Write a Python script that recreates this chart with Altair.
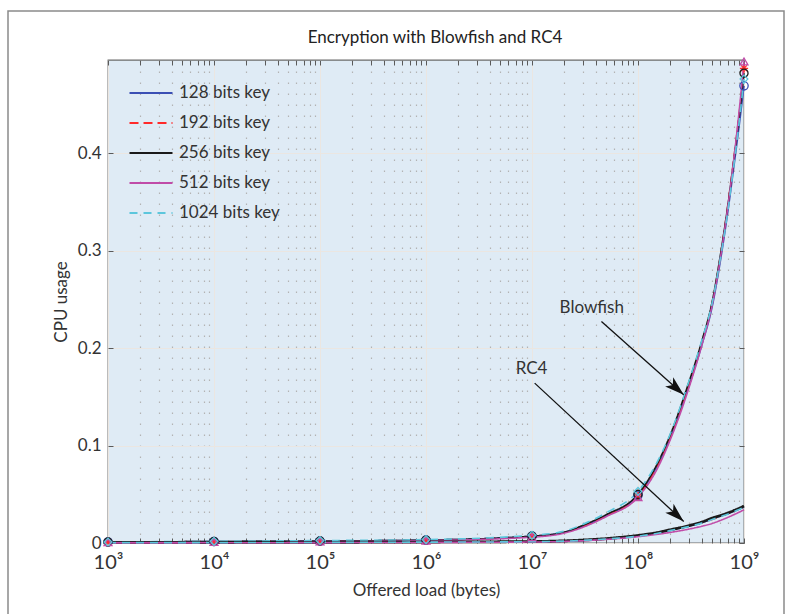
import altair as alt
import pandas as pd

# ---------------- data ----------------
keys = ["128 bits key", "192 bits key", "256 bits key", "512 bits key", "1024 bits key"]
colors = ["#3b4fb4", "#ff2a2a", "#1a1a1a", "#c04ca8", "#5cc6dc"]
dashes = [[1, 0], [9, 5], [1, 0], [1, 0], [8, 6]]
marker_shapes = ["circle",
                 "M-1,0L1,0M0,-1L0,1M-0.7,-0.7L0.7,0.7M-0.7,0.7L0.7,-0.7",
                 "circle", "triangle-up", "diamond"]
marker_sizes = [70, 60, 6, 90, 110]

loads = [1e3, 1e4, 1e5, 1e6, 1e7, 2e7, 3e7, 5e7, 1e8, 1.5e8, 2e8, 3e8,
         4e8, 5e8, 6e8, 7e8, 8e8, 9e8, 1e9]

blowfish_128 = [0.001, 0.0015, 0.002, 0.003, 0.007, 0.011, 0.017, 0.028, 0.049, 0.078,
                0.107, 0.160, 0.203, 0.242, 0.290, 0.338, 0.385, 0.428, 0.469]
blowfish_192 = [0.001, 0.0015, 0.002, 0.003, 0.007, 0.011, 0.017, 0.028, 0.048, 0.078,
                0.108, 0.162, 0.206, 0.246, 0.295, 0.345, 0.394, 0.440, 0.487]
blowfish_256 = [0.001, 0.0015, 0.002, 0.003, 0.007, 0.011, 0.018, 0.029, 0.050, 0.080,
                0.110, 0.164, 0.207, 0.247, 0.296, 0.344, 0.392, 0.437, 0.482]
blowfish_512 = [0.0008, 0.001, 0.0015, 0.0025, 0.006, 0.010, 0.016, 0.027, 0.047, 0.075,
                0.105, 0.158, 0.203, 0.244, 0.293, 0.343, 0.393, 0.443, 0.494]
blowfish_1024 = [0.001, 0.0018, 0.0025, 0.0035, 0.008, 0.012, 0.019, 0.031, 0.053, 0.082,
                 0.111, 0.165, 0.208, 0.246, 0.293, 0.339, 0.387, 0.432, 0.476]

rc4_128 = [0.0002, 0.0004, 0.0006, 0.0009, 0.0014, 0.002, 0.0028, 0.0042, 0.0072, 0.010,
           0.013, 0.0172, 0.0208, 0.0246, 0.0276, 0.0300, 0.0325, 0.0348, 0.0370]
rc4_192 = [0.0002, 0.0004, 0.0006, 0.0009, 0.0014, 0.002, 0.0029, 0.0043, 0.0073, 0.0102,
           0.0131, 0.0172, 0.0207, 0.0242, 0.0274, 0.0300, 0.0326, 0.0350, 0.0372]
rc4_256 = [0.0003, 0.0005, 0.0007, 0.001, 0.0015, 0.0022, 0.003, 0.0045, 0.0078, 0.0106,
           0.0135, 0.0177, 0.0215, 0.0255, 0.0282, 0.0307, 0.0332, 0.0356, 0.0380]
rc4_512 = [0.0001, 0.0002, 0.0004, 0.0006, 0.001, 0.0016, 0.0023, 0.0037, 0.0065, 0.0088,
           0.0108, 0.0142, 0.0172, 0.0200, 0.0232, 0.0262, 0.0290, 0.0316, 0.0340]
rc4_1024 = [0.0002, 0.0004, 0.0006, 0.0009, 0.0013, 0.0019, 0.0027, 0.0041, 0.0070, 0.0098,
            0.0127, 0.0168, 0.0204, 0.0240, 0.0270, 0.0296, 0.0321, 0.0345, 0.0366]

decades = [1e3, 1e4, 1e5, 1e6, 1e7, 1e8, 1e9]
minor_ticks = [m * 10 ** e for e in range(3, 9) for m in range(2, 10)]
y_ticks = [0, 0.1, 0.2, 0.3, 0.4]

chart_title = "Encryption with Blowfish and RC4"
ann_labels = ["Blowfish", "RC4"]
ann_text_x = [3.66e7, 9.9e6]
ann_text_y = [0.2407, 0.178]
arrow_x = [4.52e7, 1.06e7]
arrow_y = [0.2272, 0.164]
arrow_x2 = [2.70e8, 2.70e8]
arrow_y2 = [0.152, 0.022]
arrow_angle = [131.7, 132.9]

# ---------------- tables ----------------
bf = [blowfish_128, blowfish_192, blowfish_256, blowfish_512, blowfish_1024]
rc = [rc4_128, rc4_192, rc4_256, rc4_512, rc4_1024]
rows = []
for alg, series in (("Blowfish", bf), ("RC4", rc)):
    for k, vals in zip(keys, series):
        for x, y in zip(loads, vals):
            rows.append({"alg": alg, "key": k, "load": x, "cpu": y})
df_lines = pd.DataFrame(rows)
df_marks = df_lines[(df_lines["alg"] == "Blowfish") & (df_lines["load"].isin(decades))].copy()
df_marks["mkey"] = df_marks["key"]
df_ann = pd.DataFrame({"label": ann_labels, "tx": ann_text_x, "ty": ann_text_y,
                       "x": arrow_x, "y": arrow_y, "x2": arrow_x2, "y2": arrow_y2,
                       "angle": arrow_angle})

W, H = 636, 483
FONT = "Lato"
TXT = "#333333"
xscale = alt.Scale(type="log", domain=[1e3, 1e9], nice=False)
yscale = alt.Scale(domain=[0, 0.4955], nice=False, zero=False)
sup = ("'10' + substring('\u2070\u00b9\u00b2\u00b3\u2074\u2075\u2076\u2077\u2078\u2079', "
       "round(log(datum.value)/LN10), round(log(datum.value)/LN10)+1)")

# legend symbol dash pattern, looked up from the same key/dash lists
dash_expr = "[1,0]"
for k, d in zip(keys, dashes):
    dash_expr = f"datum.value == '{k}' ? [{d[0]},{d[1]}] : ({dash_expr})"

legend = alt.Legend(
    title=None, orient="none", legendX=32, legendY=22, padding=0,
    labelFont=FONT, labelFontSize=17, labelFontWeight="normal", labelColor=TXT,
    labelOffset=17, symbolType="M-2.15,0L2.15,0", symbolSize=400, symbolStrokeWidth=2,
    rowPadding=11, symbolDash=alt.ExprRef(expr=dash_expr),
)

frame = alt.Chart(pd.DataFrame({"f": [0]})).mark_rect(
    fill=None, stroke="#8a8a8a", strokeWidth=1.5
).encode(x=alt.value(-100), x2=alt.value(676), y=alt.value(-49), y2=alt.value(560))

title = alt.Chart(pd.DataFrame({"t": [chart_title]})).mark_text(
    font=FONT, fontSize=17, color="#222222", align="center", baseline="middle"
).encode(x=alt.value(W / 2 + 9), y=alt.value(-22), text="t:N")

lines = alt.Chart(df_lines).mark_line(interpolate="monotone").encode(
    x=alt.X("load:Q", scale=xscale, axis=alt.Axis(
        orient="bottom", values=decades, labelExpr=sup, ticks=False, domain=False,
        labelFlush=False, grid=True, gridColor="#ebe6e1", gridWidth=1,
        labelFontSize=20, labelPadding=9,
        title="Offered load (bytes)", titlePadding=10)),
    y=alt.Y("cpu:Q", scale=yscale, axis=alt.Axis(
        orient="left", values=y_ticks, format="~g", ticks=False, domain=False,
        labelFlush=False, grid=True, gridColor="#ebe6e1", gridWidth=1,
        labelFontSize=17, labelPadding=7, title="CPU usage", titlePadding=7)),
    color=alt.Color("key:N", scale=alt.Scale(domain=keys, range=colors), legend=legend),
    strokeDash=alt.StrokeDash("key:N", scale=alt.Scale(domain=keys, range=dashes),
                              legend=None),
    detail="alg:N",
    strokeWidth=alt.condition("datum.key == '256 bits key' && datum.alg == 'RC4'",
                              alt.value(2.8), alt.value(1.6)),
)

points = alt.Chart(df_marks).mark_point(filled=False, strokeWidth=1.3, opacity=1).encode(
    x=alt.X("load:Q", scale=xscale, axis=alt.Axis(
        orient="top", offset=-H, values=decades + minor_ticks, tickSize=5, labels=False,
        domain=False, grid=False, title=None)),
    y=alt.Y("cpu:Q", scale=yscale, axis=alt.Axis(
        orient="right", offset=-W, values=y_ticks, tickSize=5, labels=False,
        domain=False, grid=False, title=None)),
    color=alt.Color("mkey:N", scale=alt.Scale(domain=keys, range=colors), legend=None),
    shape=alt.Shape("mkey:N", scale=alt.Scale(domain=keys, range=marker_shapes), legend=None),
    size=alt.Size("mkey:N", scale=alt.Scale(domain=keys, range=marker_sizes), legend=None),
)

arrows = alt.Chart(df_ann).mark_rule(color="#111111", strokeWidth=1.3).encode(
    x=alt.X("x:Q", scale=xscale, axis=alt.Axis(
        orient="bottom", offset=-H, values=decades + minor_ticks, tickSize=5, labels=False,
        domain=False, grid=False, title=None)),
    y=alt.Y("y:Q", scale=yscale, axis=alt.Axis(
        orient="left", offset=-W, values=y_ticks, tickSize=5, labels=False,
        domain=False, grid=False, title=None)),
    x2="x2:Q", y2="y2:Q",
)

heads = alt.Chart(df_ann).mark_point(
    shape="M0,0L0.62,2L0,1.5L-0.62,2Z", filled=True, color="#111111", size=380, opacity=1
).encode(
    x=alt.X("x2:Q", scale=xscale, axis=None),
    y=alt.Y("y2:Q", scale=yscale, axis=None),
    angle=alt.Angle("angle:Q", scale=None),
)

texts = alt.Chart(df_ann).mark_text(
    font=FONT, fontSize=17, color=TXT, align="center", baseline="middle"
).encode(
    x=alt.X("tx:Q", scale=xscale, axis=alt.Axis(
        orient="bottom", values=minor_ticks, ticks=False, labels=False, domain=False,
        grid=True, gridColor="#b3b3b3", gridDash=[1.6, 9.4], gridWidth=1.2, title=None)),
    y=alt.Y("ty:Q", scale=yscale, axis=None),
    text="label:N",
)

chart = alt.layer(frame, title, texts, lines, points, arrows, heads).resolve_axis(
    x="independent", y="independent"
).resolve_scale(
    color="independent", shape="independent", size="independent"
).properties(
    width=W, height=H,
    padding={"left": 108, "top": 60, "right": 48, "bottom": 71},
    autosize=alt.AutoSizeParams(type="none"),
).configure(background="white").configure_view(
    fill="#dfebf5", stroke="#6a6a6a", strokeWidth=1.3
).configure_axis(
    labelFont=FONT, titleFont=FONT, labelColor=TXT, titleColor=TXT,
    titleFontSize=17, titleFontWeight="normal", tickColor="#5a5a5a", tickWidth=1,
)

chart.save("out.html", embed_options={"renderer": "svg", "actions": False})
